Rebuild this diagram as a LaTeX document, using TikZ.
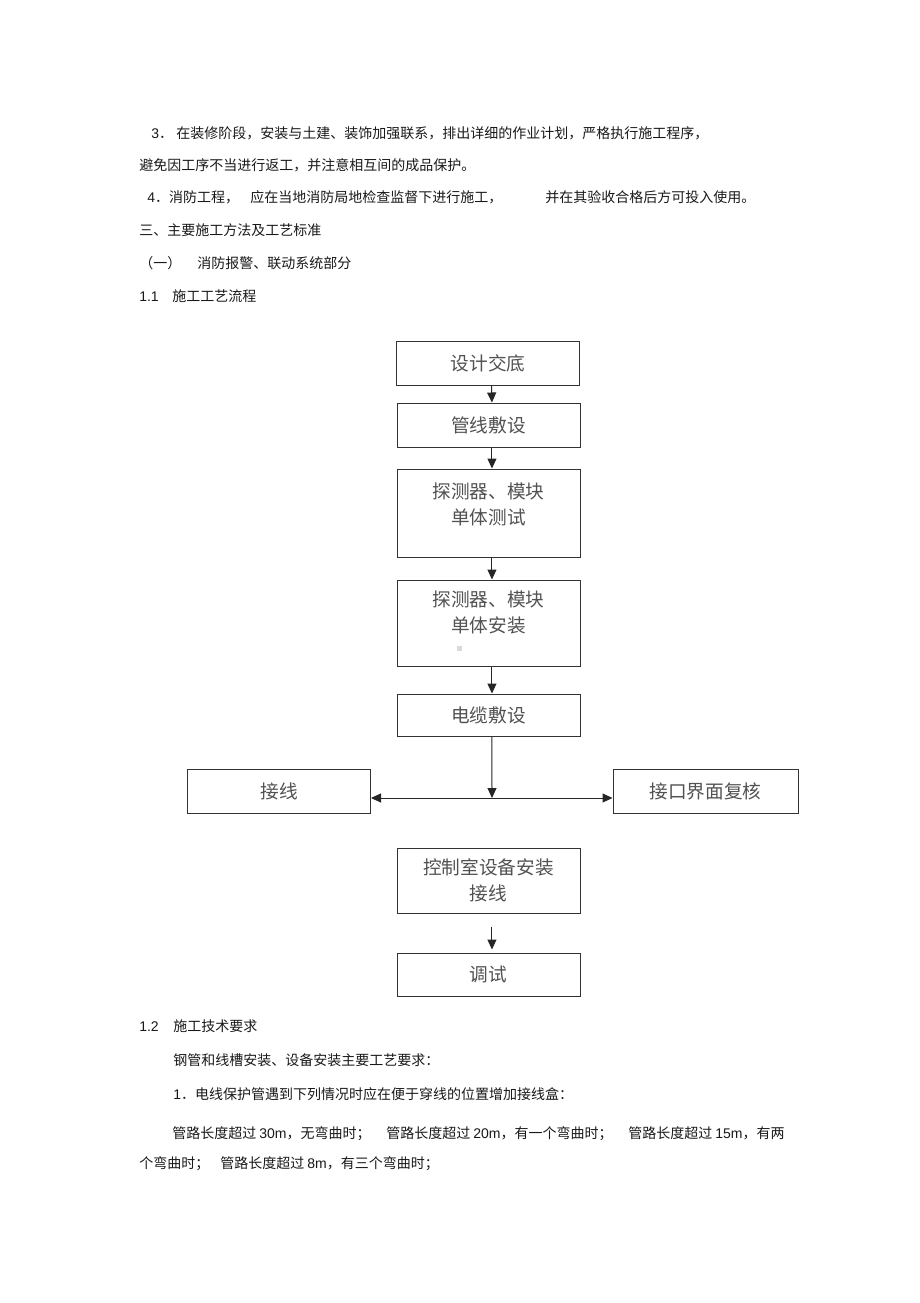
\documentclass[tikz,border=0pt]{standalone}
\usepackage{fontspec}
\setmainfont{Liberation Sans}
\newfontfamily\cjk{Noto Sans CJK SC}
\newcommand\latn[1]{{\rmfamily #1}}
\usetikzlibrary{arrows.meta}
\begin{document}
\begin{tikzpicture}[x=0.75pt,y=-0.75pt,
  body/.style={anchor=base west,inner sep=0pt,font=\cjk\fontsize{10.5pt}{12pt}\selectfont,text=black!90},
  flowbox/.style={draw=black!80,line width=0.75pt,minimum width=137.25pt,inner sep=0pt,align=center,font=\cjk\fontsize{14pt}{19.5pt}\selectfont,text=black!68},
  flowtext/.style={inner sep=0pt,align=center,font=\cjk\fontsize{14pt}{19.5pt}\selectfont,text=black!68},
  arr/.style={draw=black!85,line width=0.75pt,-{Triangle[length=7.5pt,width=6.75pt]}}]
\useasboundingbox[fill=white] (0,0) rectangle (920,1303);

% upper text
\node[body] (l3a) at (151,138) {\latn{3}．};
\node[body] (l3b) at (176,138) {在装修阶段，安装与土建、装饰加强联系，排出详细的作业计划，严格执行施工程序，};
\node[body] (l3c) at (139,170) {避免因工序不当进行返工，并注意相互间的成品保护。};
\node[body] (l4a) at (147,202) {\latn{4}．消防工程，};
\node[body] (l4b) at (250,202) {应在当地消防局地检查监督下进行施工，};
\node[body] (l4c) at (545,202) {并在其验收合格后方可投入使用。};
\node[body] (l5) at (139,235) {三、主要施工方法及工艺标准};
\node[body] (l6a) at (139,268) {（一）};
\node[body] (l6b) at (197,268) {消防报警、联动系统部分};
\node[body] (l7a) at (139,301) {\latn{1.1}};
\node[body] (l7b) at (172,301) {施工工艺流程};

% flow chart
\node[flowbox,minimum height=33pt] (b1) at (488,363) {设计交底};
\node[flowbox,minimum height=33pt] (b2) at (488.5,425) {管线敷设};
\node[flowbox,minimum height=66pt] (b3) at (488.5,513) {};
\node[flowtext] (t3) at (488.5,504) {探测器、模块\\单体测试};
\node[flowbox,minimum height=64.5pt] (b4) at (488.5,623) {};
\node[flowtext] (t4) at (488.5,612) {探测器、模块\\单体安装};
\fill[black!15] (457,646) rectangle (462,651);
\node[flowbox,minimum height=31.5pt] (b5) at (488.5,715) {电缆敷设};
\node[flowbox,minimum height=33pt] (bl) at (279,791) {接线};
\node[flowbox,minimum height=33pt,minimum width=138.75pt] (br) at (705.5,791) {接口界面复核};
\node[flowbox,minimum height=48.75pt] (b8) at (488.5,880.5) {控制室设备安装\\接线};
\node[flowbox,minimum height=32.25pt] (b9) at (488.5,974.5) {调试};

\draw[arr] ([xshift=2.6pt]b1.south) -- ([xshift=2.6pt]b2.north);
\draw[arr] ([xshift=2.6pt]b2.south) -- ([xshift=2.6pt]b3.north);
\draw[arr] ([xshift=2.6pt]b3.south) -- ([xshift=2.6pt]b4.north);
\draw[arr] ([xshift=2.6pt]b4.south) -- ([xshift=2.6pt]b5.north);
\coordinate (j) at (492,798);
\draw[arr] ([xshift=2.6pt]b5.south) -- (j);
\draw[arr] (j) -- (j -| bl.east);
\draw[arr] (j) -- (j -| br.west);
\draw[arr] ([xshift=2.6pt,yshift=-9.75pt]b8.south) -- ([xshift=2.6pt,yshift=2.25pt]b9.north);

% lower text
\node[body] (m1a) at (139,1031) {\latn{1.2}};
\node[body] (m1b) at (173,1031) {施工技术要求};
\node[body] (m2) at (173,1065) {钢管和线槽安装、设备安装主要工艺要求：};
\node[body] (m3) at (173,1099) {\latn{1}．电线保护管遇到下列情况时应在便于穿线的位置增加接线盒：};
\node[body] (m4a) at (172,1138) {管路长度超过 \latn{30m}，无弯曲时；};
\node[body] (m4b) at (386,1138) {管路长度超过 \latn{20m}，有一个弯曲时；};
\node[body] (m4c) at (628,1138) {管路长度超过 \latn{15m}，有两};
\node[body] (m5a) at (139,1168) {个弯曲时；};
\node[body] (m5b) at (220,1168) {管路长度超过 \latn{8m}，有三个弯曲时；};
\end{tikzpicture}
\end{document}
